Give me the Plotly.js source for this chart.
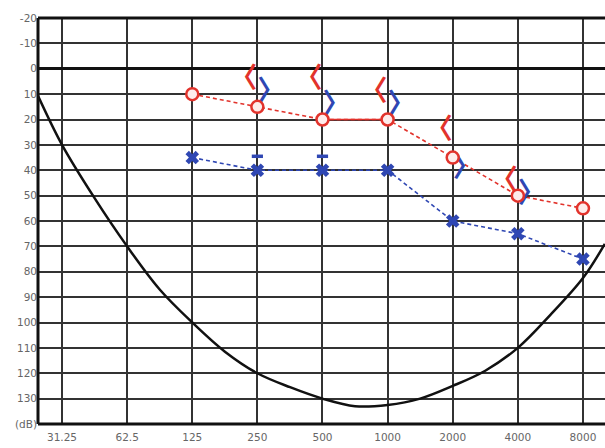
<!DOCTYPE html>
<html><head><meta charset="utf-8">
<script src="https://cdn.plot.ly/plotly-3.0.1.min.js"></script>
<style>html,body{margin:0;padding:0;background:#fff}#chart{width:605px;height:448px}</style>
</head><body><div id="chart"></div>
<script>
// Frequencies (Hz)
const freqs = [125, 250, 500, 1000, 2000, 4000, 8000];
// Right ear air conduction (red O)
const rightAir = [10, 15, 20, 20, 35, 50, 55];
// Left ear air conduction (blue X)
const leftAir = [35, 40, 40, 40, 60, 65, 75];
// Bone conduction
const boneFreqs = [250, 500, 1000, 2000, 4000];
const rightBone = [5, 5, 10, 25, 45];
const leftBone = [10, 15, 15, 40, 50];
// Small blue dash marks
const dashFreqs = [250, 500];
const dashLevels = [34.5, 34.5];
// Black reference curve (read at roughly half-octave steps)
const curveFreqs = [24, 31.25, 44.2, 62.5, 88.4, 125, 177, 250, 354, 500, 707, 1000, 1414, 2000, 2828, 4000, 5657, 8000, 10100];
const curveLevels = [10, 30, 51, 70, 87, 100, 111.5, 120, 125.5, 130, 133, 132.5, 130, 125, 119, 110, 97, 82.5, 69];
// Axis ticks
const xTicks = [31.25, 62.5, 125, 250, 500, 1000, 2000, 4000, 8000];
const xTickText = ['31.25', '62.5', '125', '250', '500', '1000', '2000', '4000', '8000'];
const yTicks = [-20,-10,0,10,20,30,40,50,60,70,80,90,100,110,120,130,140];
const yTickText = ['-20','-10','0','10','20','30','40','50','60','70','80','90','100','110','120','130','(dB)'];

const RED = '#e2332c';
const BLUE = '#2f47b3';
const dashStyle = '4px,3px';

const traces = [
  {x: curveFreqs, y: curveLevels, mode: 'lines', line: {color: '#111', width: 2.5, shape: 'spline', smoothing: 1}, hoverinfo: 'skip'},
  {x: freqs, y: rightAir, mode: 'lines', line: {color: RED, width: 1.6, dash: dashStyle}},
  {x: freqs.slice(2, 4), y: rightAir.slice(2, 4), mode: 'lines', line: {color: RED, width: 1.6}},
  {x: freqs, y: leftAir, mode: 'lines', line: {color: BLUE, width: 1.6, dash: dashStyle}},
  {x: boneFreqs, y: rightBone, mode: 'text', text: boneFreqs.map(() => '〈'), textposition: 'middle left',
   textfont: {color: RED, size: 28, family: 'Noto Sans CJK SC', weight: 'bold'}},
  {x: boneFreqs, y: leftBone, mode: 'text', text: boneFreqs.map(() => '〉'), textposition: 'middle right',
   textfont: {color: BLUE, size: 28, family: 'Noto Sans CJK SC', weight: 'bold'}},
  {x: dashFreqs, y: dashLevels, mode: 'markers', marker: {symbol: 'line-ew', size: 8, color: BLUE, line: {color: BLUE, width: 3.5}}},
  {x: freqs, y: leftAir, mode: 'markers', marker: {symbol: 'x', size: 12, color: BLUE}},
  {x: freqs, y: rightAir, mode: 'markers', marker: {symbol: 'circle', size: 12, color: '#fdeceb', line: {color: RED, width: 2.5}}}
];

const layout = {
  width: 605, height: 448,
  margin: {l: 38, r: 0, t: 18, b: 24},
  showlegend: false,
  paper_bgcolor: '#fff', plot_bgcolor: '#fff',
  font: {family: 'DejaVu Sans', color: '#666', size: 10},
  xaxis: {type: 'log', range: [1.3838, 4.005], tickvals: xTicks, ticktext: xTickText,
    showgrid: true, gridcolor: '#333', gridwidth: 2, zeroline: false, ticks: 'outside', ticklen: 3, tickcolor: 'rgba(0,0,0,0)',
    showline: false, fixedrange: true, tickfont: {size: 10.5, color: '#666'}},
  yaxis: {range: [140, -20], tickvals: yTicks, ticktext: yTickText,
    showgrid: true, gridcolor: '#333', gridwidth: 2, zeroline: true, zerolinecolor: '#111', zerolinewidth: 3,
    ticks: '', showline: false, fixedrange: true, tickfont: {size: 10.5, color: '#666'}},
  shapes: [
    {type: 'line', xref: 'paper', yref: 'paper', x0: 0, x1: 1, y0: 0, y1: 0, line: {color: '#111', width: 3}},
    {type: 'line', xref: 'paper', yref: 'paper', x0: 0, x1: 1, y0: 1, y1: 1, line: {color: '#111', width: 3}},
    {type: 'line', xref: 'paper', yref: 'paper', x0: 0, x1: 0, y0: 0, y1: 1, line: {color: '#111', width: 3}}
  ]
};

Plotly.newPlot('chart', traces, layout, {displayModeBar: false, staticPlot: true});
</script></body></html>
